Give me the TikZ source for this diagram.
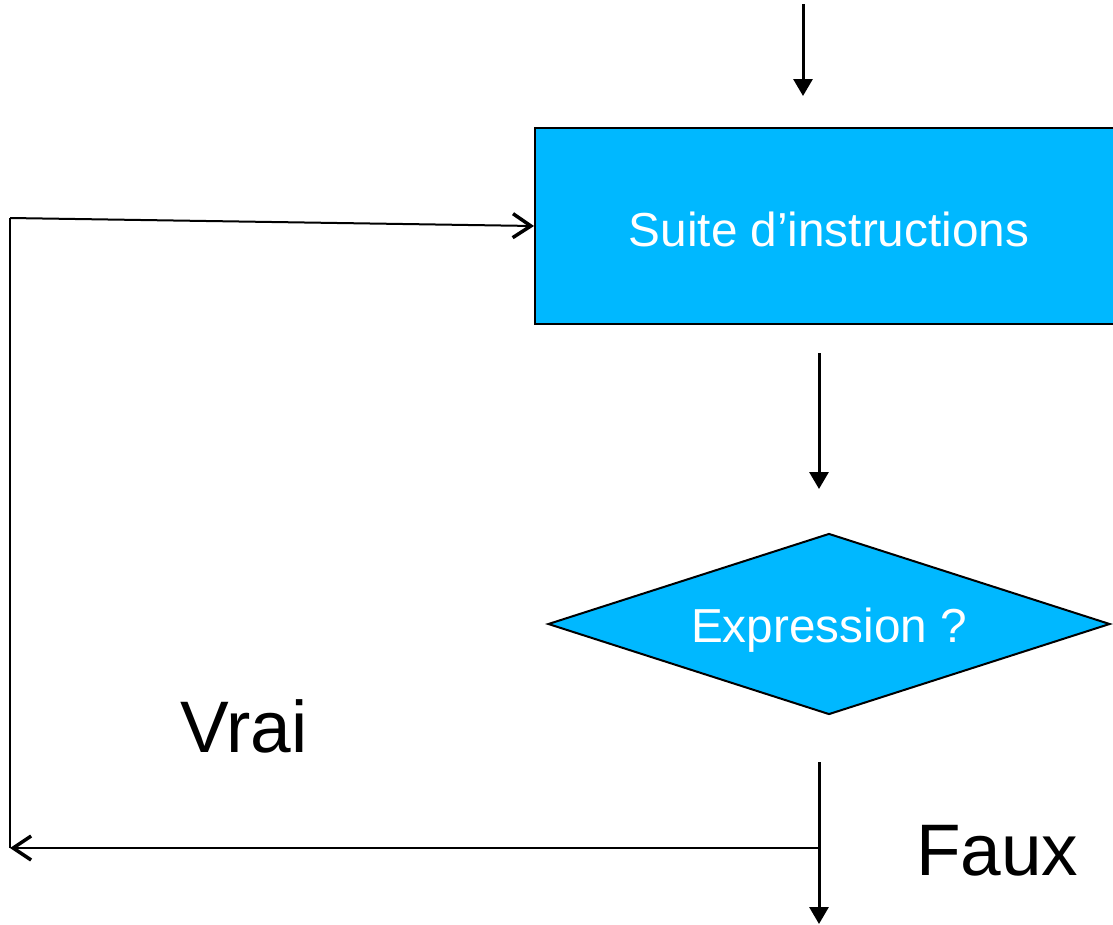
\documentclass[tikz,border=0pt]{standalone}
\usepackage{fontspec}
\setmainfont{Liberation Sans}
\usetikzlibrary{shapes.geometric,arrows.meta}
\definecolor{boxblue}{RGB}{0,184,255}
\tikzset{
  box/.style={draw=black, line width=2pt, fill=boxblue, text=white, font=\fontsize{47.7}{50}\selectfont, inner sep=0pt},
  flow/.style={line width=3pt, -{Triangle[length=17pt,width=19pt]}},
  back/.style={line width=2pt, -{Straight Barb[length=18pt,width=24pt,line width=3.5pt]}},
  plain/.style={line width=2.5pt},
  big/.style={font=\fontsize{73}{76}\selectfont, inner sep=0pt}
}
\begin{document}
\begin{tikzpicture}[x=1pt,y=-1pt]
\useasboundingbox (0,0) rectangle (1113,924);
\clip (0,0) rectangle (1113,924);
\node[box, rectangle, minimum width=588pt, minimum height=196pt] (suite) at (829,226) {\raisebox{-3pt}[\height][\depth]{Suite d’instructions}};
\node[box, diamond, aspect=3.1, minimum width=562pt, minimum height=181pt] (expr) at (829,624) {\raisebox{-6pt}[\height][\depth]{Expression ?}};
\coordinate (t0) at (803,4);
\coordinate (t1) at (803,96);
\coordinate (m0) at (819,353);
\coordinate (m1) at (819,489);
\coordinate (b0) at (819,762);
\coordinate (b1) at (819,924);
\coordinate (j) at (819,848);
\coordinate (lb) at (10,848);
\coordinate (lt) at (10,218);
\coordinate (in) at (534,226);
\draw[flow] (t0) -- (t1);
\draw[flow] (m0) -- (m1);
\draw[flow] (b0) -- (b1);
\draw[back] (j) -- (lb);
\draw[plain] (lb) -- (lt);
\draw[back] (lt) -- (in);
\node[big, anchor=base west] (vrai) at (180,752) {Vrai};
\node[big, anchor=base west] (faux) at (916,875) {Faux};
\end{tikzpicture}
\end{document}
